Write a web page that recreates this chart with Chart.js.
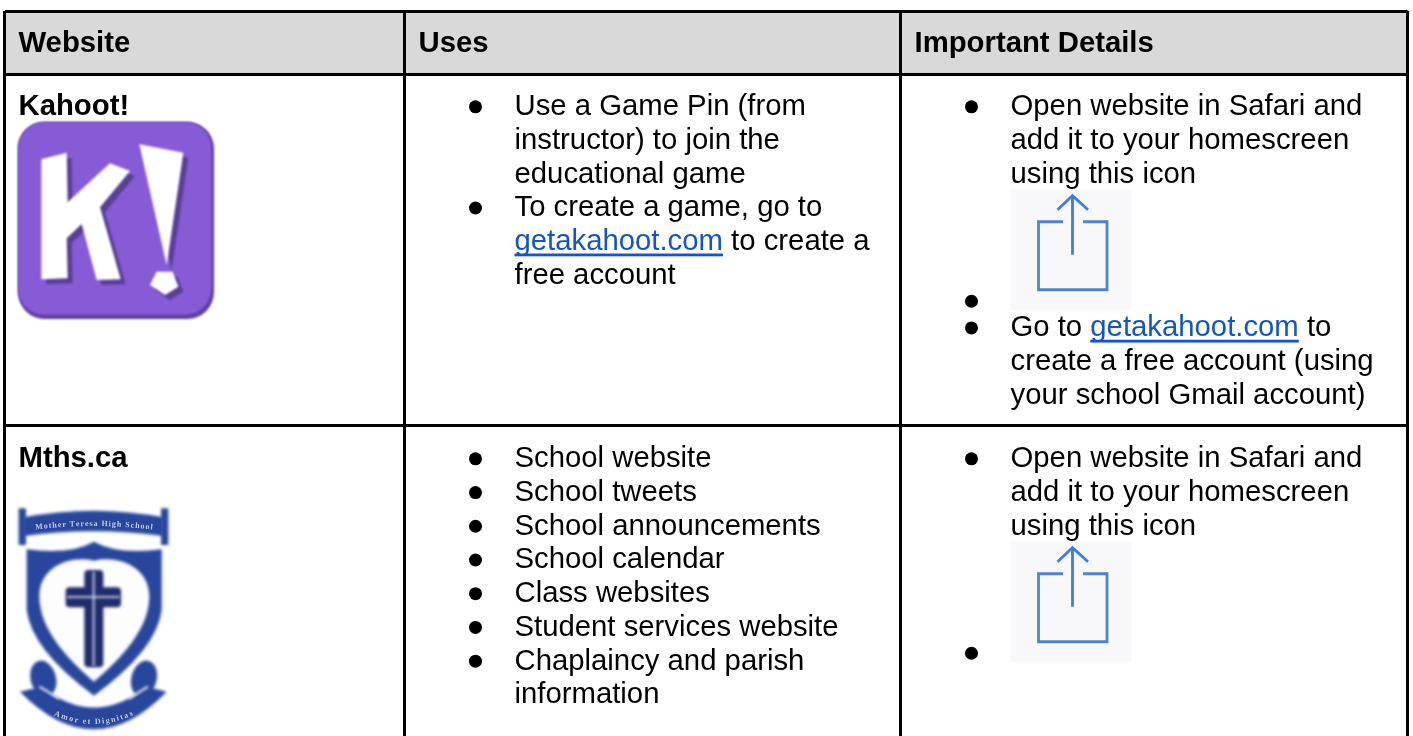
<!DOCTYPE html>
<html>
<head>
<meta charset="utf-8">
<title>Websites</title>
<script src="https://cdn.jsdelivr.net/npm/chart.js@4/dist/chart.umd.min.js"></script>
<style>
  html, body { margin: 0; padding: 0; background: #fff; }
  canvas { display: block; }
</style>
</head>
<body>
<canvas id="table" width="1413" height="736"></canvas>
<script>
const columnEdges = [4.5, 404.5, 900.5, 1407.5];
const rowEdges = [11, 74.3, 425.5];
const rowBaselines = [52, 115.3, 467.3];
const headers = ['Website', 'Uses', 'Important Details'];
const siteNames = ['Kahoot!', 'Mths.ca'];
const linkText = 'getakahoot.com';

// a list item is an array of wrapped lines, null is the share icon
const kahootUses = [
  ['Use a Game Pin (from', 'instructor) to join the', 'educational game'],
  ['To create a game, go to', 'getakahoot.com to create a', 'free account']
];
const kahootDetails = [
  ['Open website in Safari and', 'add it to your homescreen', 'using this icon'],
  null,
  ['Go to getakahoot.com to', 'create a free account (using', 'your school Gmail account)']
];
const mthsUses = [
  ['School website'],
  ['School tweets'],
  ['School announcements'],
  ['School calendar'],
  ['Class websites'],
  ['Student services website'],
  ['Chaplaincy and parish', 'information']
];
const mthsDetails = [
  ['Open website in Safari and', 'add it to your homescreen', 'using this icon'],
  null
];

const LINE = 33.73;
const FONT = '29.3px "Liberation Sans", Arial, sans-serif';
const BOLD = 'bold 29.3px "Liberation Sans", Arial, sans-serif';

// walk a list and work out where its bullets, lines and icons land
function layoutList(items, col, row) {
  const out = { bullets: [], lines: [], icons: [] };
  const textX = columnEdges[col] + 110;
  const bulletX = columnEdges[col] + 71;
  let y = rowBaselines[row];
  items.forEach(item => {
    if (item === null) {
      const top = y - LINE + 6;
      out.icons.push({ x: textX, y: top });
      y = top + 121;
      out.bullets.push({ x: bulletX, y: y - 8.5 });
      y += 26.7;
      return;
    }
    out.bullets.push({ x: bulletX, y: y - 8.5 });
    item.forEach(text => {
      out.lines.push({ text, x: textX, y });
      y += LINE;
    });
  });
  return out;
}

const lists = [
  layoutList(kahootUses, 1, 1),
  layoutList(kahootDetails, 2, 1),
  layoutList(mthsUses, 1, 2),
  layoutList(mthsDetails, 2, 2)
];

function poly(ctx, pts) {
  ctx.beginPath();
  pts.forEach((p, i) => i ? ctx.lineTo(p[0], p[1]) : ctx.moveTo(p[0], p[1]));
  ctx.closePath();
  ctx.fill();
}

function roundBox(ctx, x, y, w, h, r) {
  ctx.beginPath();
  ctx.roundRect(x, y, w, h, r);
  ctx.fill();
}

// logos are pictures in the original, drawn here in 3x zoomed units
function drawKahootLogo(ctx) {
  const k = [[124, 478], [200, 458], [203, 607], [330, 490], [390, 513], [300, 622], [362, 838], [290, 840], [245, 672], [200, 715], [203, 835], [124, 838]];
  const bang = [[418, 433], [550, 458], [500, 795]];
  const dot = [[470, 815], [518, 815], [535, 860], [495, 885], [450, 855]];
  ctx.save();
  ctx.scale(1 / 3, 1 / 3);
  ctx.filter = 'blur(1px)';
  ctx.fillStyle = '#5c3f9e';
  roundBox(ctx, 54, 366, 588, 591, 80);
  ctx.fillStyle = '#875bd6';
  roundBox(ctx, 54, 366, 580, 578, 78);
  ctx.fillStyle = '#583f98';
  [k, bang, dot].forEach(s => poly(ctx, s.map(p => [p[0] + 15, p[1] + 15])));
  ctx.fillStyle = '#ffffff';
  [k, bang, dot].forEach(s => poly(ctx, s));
  ctx.restore();
}

// one letter at a time along a shallow parabola, sag > 0 bends the ends upward
function curvedText(ctx, text, cx, midY, halfWidth, sag) {
  const total = ctx.measureText(text).width;
  const spare = (halfWidth * 2 - total) / (text.length - 1);
  let x = cx - halfWidth;
  for (const ch of text) {
    const w = ctx.measureText(ch).width;
    const t = (x + w / 2 - cx) / halfWidth;
    ctx.save();
    ctx.translate(x + w / 2, midY - sag * t * t);
    ctx.rotate(Math.atan(-2 * sag * t / halfWidth));
    ctx.fillText(ch, -w / 2, 0);
    ctx.restore();
    x += w + spare;
  }
}

function drawCrest(ctx) {
  const blue = '#28479c';
  ctx.save();
  ctx.translate(0, 430);
  ctx.scale(1 / 3, 1 / 3);
  ctx.filter = 'blur(1.5px)';
  ctx.fillStyle = blue;
  // top banner
  ctx.beginPath();
  ctx.moveTo(70, 262);
  ctx.quadraticCurveTo(280, 222, 490, 262);
  ctx.lineTo(490, 318);
  ctx.quadraticCurveTo(280, 290, 70, 318);
  ctx.closePath();
  ctx.fill();
  ctx.fillRect(56, 235, 22, 110);
  ctx.fillRect(483, 235, 22, 110);
  // shield
  ctx.beginPath();
  ctx.moveTo(80, 358);
  ctx.quadraticCurveTo(210, 375, 282, 335);
  ctx.quadraticCurveTo(354, 375, 485, 358);
  ctx.lineTo(485, 540);
  ctx.quadraticCurveTo(470, 660, 282, 797);
  ctx.quadraticCurveTo(95, 660, 80, 540);
  ctx.closePath();
  ctx.fill();
  // heart shaped field
  ctx.fillStyle = '#fdfdfd';
  ctx.beginPath();
  ctx.moveTo(282, 392);
  ctx.bezierCurveTo(210, 375, 118, 410, 118, 500);
  ctx.bezierCurveTo(118, 610, 230, 710, 282, 755);
  ctx.bezierCurveTo(334, 710, 448, 610, 448, 500);
  ctx.bezierCurveTo(448, 410, 354, 375, 282, 392);
  ctx.fill();
  // cross
  ctx.fillStyle = '#1f2c6e';
  roundBox(ctx, 253, 420, 57, 292, 12);
  roundBox(ctx, 197, 472, 166, 60, 12);
  ctx.fillStyle = '#c9cede';
  ctx.fillRect(278, 424, 6, 284);
  ctx.fillRect(201, 498, 158, 6);
  // bottom scroll with its two rolled ends
  ctx.fillStyle = blue;
  ctx.beginPath();
  ctx.moveTo(60, 785);
  ctx.quadraticCurveTo(282, 1011, 500, 785);
  ctx.lineTo(440, 770);
  ctx.quadraticCurveTo(282, 895, 125, 770);
  ctx.closePath();
  ctx.fill();
  ctx.beginPath();
  ctx.ellipse(130, 746, 38, 55, -0.25, 0, Math.PI * 2);
  ctx.fill();
  ctx.beginPath();
  ctx.ellipse(432, 746, 38, 55, 0.25, 0, Math.PI * 2);
  ctx.fill();
  ctx.strokeStyle = '#f2f3f7';
  ctx.lineWidth = 6;
  ctx.beginPath();
  ctx.moveTo(118, 770);
  ctx.lineTo(178, 806);
  ctx.moveTo(444, 770);
  ctx.lineTo(386, 806);
  ctx.stroke();
  ctx.restore();

  ctx.save();
  ctx.filter = 'blur(0.4px)';
  ctx.fillStyle = '#c3cbe2';
  ctx.font = 'bold 8px "Liberation Serif", serif';
  curvedText(ctx, 'Mother Teresa High School', 93.5, 526, 58, -3.5);
  curvedText(ctx, 'Amor et Dignitas', 93.5, 724, 40, 9);
  ctx.restore();
}

function drawShareIcon(ctx, x, y) {
  ctx.save();
  ctx.translate(x, y);
  ctx.fillStyle = '#f8f8fa';
  ctx.fillRect(0, 0, 121, 121);
  ctx.filter = 'blur(0.4px)';
  ctx.strokeStyle = '#4a84d2';
  ctx.lineWidth = 2.8;
  ctx.beginPath();
  ctx.moveTo(52.5, 33);
  ctx.lineTo(28, 33);
  ctx.lineTo(28, 101);
  ctx.lineTo(96.5, 101);
  ctx.lineTo(96.5, 33);
  ctx.lineTo(72.5, 33);
  ctx.stroke();
  ctx.strokeStyle = '#3a7fe0';
  ctx.beginPath();
  ctx.moveTo(62, 8);
  ctx.lineTo(62, 66);
  ctx.moveTo(47, 21);
  ctx.lineTo(62, 7);
  ctx.lineTo(77.5, 21);
  ctx.stroke();
  ctx.restore();
}

function drawLine(ctx, line, xPix, yPix) {
  const at = line.text.indexOf(linkText);
  ctx.font = FONT;
  ctx.fillStyle = '#000000';
  if (at < 0) {
    ctx.fillText(line.text, xPix, yPix);
    return;
  }
  const before = line.text.slice(0, at);
  const after = line.text.slice(at + linkText.length);
  const linkX = xPix + ctx.measureText(before).width;
  const linkW = ctx.measureText(linkText).width;
  if (before) ctx.fillText(before, xPix, yPix);
  if (after) ctx.fillText(after, linkX + linkW, yPix);
  ctx.fillStyle = '#1155cc';
  ctx.fillText(linkText, linkX, yPix);
  ctx.fillRect(linkX, yPix + 3.3, linkW, 2.8);
}

const tablePlugin = {
  id: 'tableContent',
  beforeDraw(chart) {
    const { ctx, scales: { x, y } } = chart;
    ctx.save();
    ctx.fillStyle = '#d9d9d9';
    ctx.fillRect(x.getPixelForValue(columnEdges[0]), y.getPixelForValue(rowEdges[0]),
      x.getPixelForValue(columnEdges[3]) - x.getPixelForValue(columnEdges[0]),
      y.getPixelForValue(rowEdges[1]) - y.getPixelForValue(rowEdges[0]));
    ctx.restore();
  },
  afterDatasetsDraw(chart) {
    const { ctx, scales: { x, y } } = chart;
    ctx.save();
    drawKahootLogo(ctx);
    drawCrest(ctx);
    lists.forEach(list => list.icons.forEach(i => drawShareIcon(ctx, x.getPixelForValue(i.x), y.getPixelForValue(i.y))));
    ctx.textBaseline = 'alphabetic';
    ctx.textAlign = 'left';
    ctx.font = BOLD;
    ctx.fillStyle = '#000000';
    headers.forEach((h, i) => {
      ctx.fillText(h, x.getPixelForValue(columnEdges[i] + 14), y.getPixelForValue(rowBaselines[0]));
    });
    siteNames.forEach((n, i) => {
      ctx.fillText(n, x.getPixelForValue(columnEdges[0] + 14), y.getPixelForValue(rowBaselines[i + 1]));
    });
    lists.forEach(list => list.lines.forEach(l => drawLine(ctx, l, x.getPixelForValue(l.x), y.getPixelForValue(l.y))));
    ctx.restore();
  }
};

new Chart(document.getElementById('table').getContext('2d'), {
  type: 'scatter',
  data: {
    datasets: [{
      data: lists.flatMap(l => l.bullets),
      pointRadius: 6.5,
      pointHoverRadius: 6.5,
      pointBackgroundColor: '#000000',
      pointBorderWidth: 0
    }]
  },
  options: {
    responsive: false,
    animation: false,
    events: [],
    layout: { autoPadding: false, padding: { left: columnEdges[0], right: 1413 - columnEdges[3], top: rowEdges[0], bottom: 0 } },
    plugins: { legend: { display: false }, tooltip: { enabled: false } },
    scales: {
      x: {
        type: 'linear',
        min: columnEdges[0],
        max: columnEdges[3],
        afterBuildTicks: s => { s.ticks = columnEdges.map(value => ({ value })); },
        ticks: { display: false },
        border: { display: false },
        grid: { color: '#000000', lineWidth: 3, drawTicks: false }
      },
      y: {
        type: 'linear',
        reverse: true,
        min: rowEdges[0],
        max: 736,
        afterBuildTicks: s => { s.ticks = rowEdges.map(value => ({ value })); },
        ticks: { display: false },
        border: { display: false },
        grid: { color: '#000000', lineWidth: 3, drawTicks: false }
      }
    }
  },
  plugins: [tablePlugin]
});
</script>
</body>
</html>
